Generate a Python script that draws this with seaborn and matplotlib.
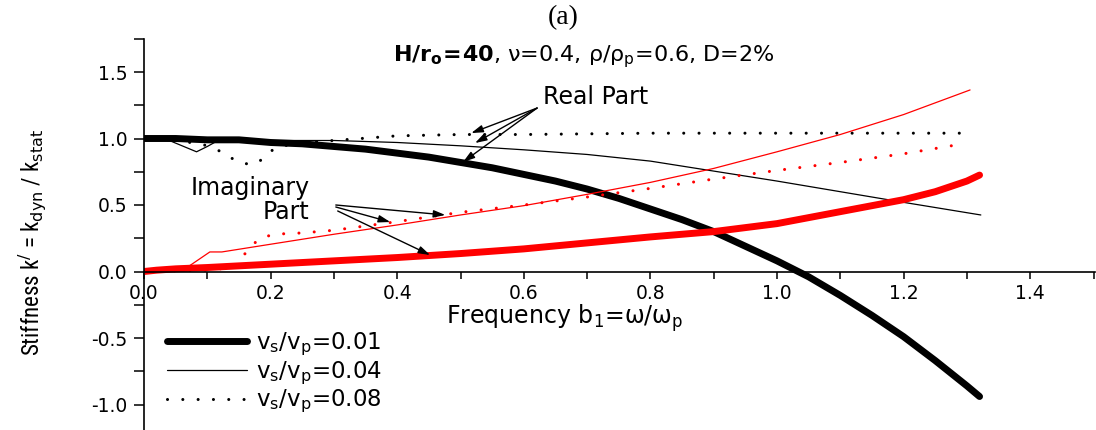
import matplotlib
matplotlib.use("Agg")
import matplotlib.pyplot as plt
from matplotlib import font_manager
from matplotlib.lines import Line2D
from matplotlib.ticker import MultipleLocator
import pandas as pd
import seaborn as sns

# --- dynamic stiffness k' = k_dyn / k_stat versus b1 = omega/omega_p ---
# vs/vp = 0.01
b1_re_001 = [0.00, 0.05, 0.10, 0.15, 0.20, 0.25, 0.30, 0.35, 0.40, 0.45, 0.50, 0.55, 0.60, 0.65,
             0.70, 0.75, 0.80, 0.85, 0.90, 0.95, 1.00, 1.05, 1.10, 1.15, 1.20, 1.25, 1.30, 1.32]
k_re_001 = [1.00, 1.00, 0.99, 0.99, 0.97, 0.96, 0.94, 0.92, 0.89, 0.86, 0.82, 0.78, 0.73, 0.68,
            0.62, 0.55, 0.47, 0.39, 0.30, 0.19, 0.08, -0.04, -0.18, -0.33, -0.49, -0.67, -0.86, -0.94]
b1_im_001 = [0.00, 0.02, 0.05, 0.10, 0.20, 0.30, 0.40, 0.50, 0.60, 0.70, 0.80, 0.90, 1.00, 1.10,
             1.20, 1.25, 1.30, 1.32]
k_im_001 = [0.00, 0.01, 0.02, 0.03, 0.055, 0.08, 0.105, 0.135, 0.17, 0.215, 0.26, 0.30, 0.36, 0.45,
            0.54, 0.60, 0.68, 0.725]

# vs/vp = 0.04
b1_re_004 = [0.00, 0.04, 0.083, 0.10, 0.117, 0.20, 0.30, 0.40, 0.50, 0.60, 0.70, 0.80, 0.90, 1.00,
             1.10, 1.20, 1.322]
k_re_004 = [1.00, 0.985, 0.90, 0.94, 0.985, 0.985, 0.985, 0.97, 0.945, 0.915, 0.88, 0.83, 0.755, 0.68,
            0.60, 0.52, 0.425]
b1_im_004 = [0.00, 0.03, 0.071, 0.104, 0.123, 0.20, 0.30, 0.40, 0.50, 0.60, 0.70, 0.80, 0.90, 1.00,
             1.10, 1.20, 1.305]
k_im_004 = [0.00, 0.01, 0.04, 0.147, 0.147, 0.205, 0.28, 0.35, 0.425, 0.495, 0.58, 0.67, 0.775, 0.90,
            1.03, 1.18, 1.365]

# vs/vp = 0.08
b1_re_008 = [0.00, 0.05, 0.073, 0.096, 0.12, 0.141, 0.16, 0.18, 0.193, 0.21, 0.25, 0.30, 0.40, 0.50,
             0.60, 0.70, 0.80, 1.00, 1.20, 1.305]
k_re_008 = [1.00, 0.99, 0.97, 0.95, 0.905, 0.845, 0.81, 0.815, 0.88, 0.935, 0.97, 0.985, 1.02, 1.03,
            1.03, 1.035, 1.04, 1.04, 1.04, 1.04]
b1_im_008 = [0.00, 0.10, 0.14, 0.155, 0.18, 0.204, 0.25, 0.30, 0.40, 0.50, 0.60, 0.70, 0.80, 0.90,
             1.00, 1.10, 1.20, 1.294]
k_im_008 = [0.00, 0.01, 0.03, 0.11, 0.24, 0.28, 0.29, 0.31, 0.375, 0.445, 0.50, 0.56, 0.625, 0.695,
            0.76, 0.82, 0.885, 0.96]

ratio_labels = [r"v$_\mathrm{s}$/v$_\mathrm{p}$=0.01",
                r"v$_\mathrm{s}$/v$_\mathrm{p}$=0.04",
                r"v$_\mathrm{s}$/v$_\mathrm{p}$=0.08"]

x_ticks = [0.0, 0.2, 0.4, 0.6, 0.8, 1.0, 1.2, 1.4]
y_ticks = [-1.0, -0.5, 0.0, 0.5, 1.0, 1.5]

# --- style ---
sns.set_style("ticks")
plt.rcParams["font.family"] = ["DejaVu Sans"]
plt.rcParams["mathtext.fontset"] = "dejavusans"
for key in ("text.color", "axes.labelcolor", "xtick.color", "ytick.color", "axes.edgecolor"):
    plt.rcParams[key] = "black"

# a condensed face for the vertical axis title, if one is available
ylab_font = dict(family="Liberation Sans", fontsize=14)
fonts = font_manager.fontManager.ttflist
names = {f.name for f in fonts}
for fam in ("Liberation Sans Narrow", "Roboto Condensed", "Open Sans Condensed",
            "Noto Sans Condensed", "DejaVu Sans Condensed"):
    if fam in names:
        ylab_font = dict(family=fam, fontsize=16.5)
        break
else:
    if any(f.name == "DejaVu Sans" and f.stretch == "condensed" and f.weight in (400, "normal")
           for f in fonts):
        ylab_font = dict(family="DejaVu Sans", fontstretch="condensed", fontsize=15.5)

DOT = (0, (0.01, 5))
styles = {
    "0.01": dict(lw=5.0, ls="-", solid_capstyle="round"),
    "0.04": dict(lw=0.9, ls="-"),
    "0.08": dict(lw=2.2, ls=DOT, dash_capstyle="round"),
}

fig = plt.figure(figsize=(10.96, 4.30), dpi=100)
ax = fig.add_axes([144 / 1096, 0.0, 951 / 1096, 391.5 / 430])

series = [
    ("0.01", "Real", b1_re_001, k_re_001, "black"),
    ("0.04", "Real", b1_re_004, k_re_004, "black"),
    ("0.08", "Real", b1_re_008, k_re_008, "black"),
    ("0.01", "Imag", b1_im_001, k_im_001, "red"),
    ("0.04", "Imag", b1_im_004, k_im_004, "red"),
    ("0.08", "Imag", b1_im_008, k_im_008, "red"),
]
for ratio, part, xs, ys, col in series:
    df = pd.DataFrame({"b1": xs, "k": ys})
    sns.lineplot(data=df, x="b1", y="k", ax=ax, color=col, estimator=None,
                 sort=False, legend=False, **styles[ratio])

# --- axes ---
ax.set_xlim(0, 951 / 633)
ax.set_ylim((271.5 - 430) / 133, (271.5 - 38.5) / 133)
for side in ("top", "right"):
    ax.spines[side].set_visible(False)
ax.spines["bottom"].set_position(("data", 0))
ax.spines["left"].set_linewidth(1.2)
ax.spines["bottom"].set_linewidth(1.2)

ax.set_xticks(x_ticks)
ax.set_xticklabels([f"{v:.1f}" for v in x_ticks])
ax.set_yticks(y_ticks)
ax.set_yticklabels([f"{v:.1f}" for v in y_ticks])
ax.xaxis.set_minor_locator(MultipleLocator(0.1))
ax.yaxis.set_minor_locator(MultipleLocator(0.25))
ax.tick_params(axis="x", which="both", direction="out", length=5, width=1.1, pad=4,
               labelsize=13.5, colors="black")
ax.tick_params(axis="y", which="both", direction="out", length=7, width=1.1, pad=5,
               labelsize=13.5, colors="black")

ax.set_xlabel(r"Frequency b$_\mathrm{1}$=ω/ω$_\mathrm{p}$", fontsize=17, va="center")
ax.xaxis.set_label_coords((565 - 144) / 951, (430 - 318) / 391.5)
ax.set_ylabel(r"Stiffness k$^{/}$ = k$_\mathrm{dyn}$ / k$_\mathrm{stat}$", va="center",
              **ylab_font)
ax.yaxis.set_label_coords((32 - 144) / 951, (430 - 242) / 391.5)

# --- text and arrows ---
ax.text(0.694, 1.613, r"$\mathbf{H/r_o\!=\!40}$, ν=0.4, ρ/ρ$_\mathrm{p}$=0.6, D=2%",
        fontsize=16, ha="center", va="center")
ax.text(0.714, 1.312, "Real Part", fontsize=17, ha="center", va="center")
ax.text(0.262, 0.628, "Imaginary", fontsize=17, ha="right", va="center")
ax.text(0.262, 0.447, "Part", fontsize=17, ha="right", va="center")

arrow_kw = dict(arrowstyle="-|>,head_length=0.7,head_width=0.22", color="black",
                lw=1.0, shrinkA=0, shrinkB=0)
for tip in [(0.517, 1.041), (0.523, 0.966), (0.504, 0.823)]:
    ax.annotate("", xy=tip, xytext=(0.621, 1.229), arrowprops=arrow_kw)
for start, tip in [((0.303, 0.500), (0.476, 0.425)),
                   ((0.303, 0.485), (0.389, 0.372)),
                   ((0.306, 0.455), (0.452, 0.124))]:
    ax.annotate("", xy=tip, xytext=start, arrowprops=arrow_kw)

# --- legend ---
handles = [Line2D([], [], color="black", **styles[r]) for r in ("0.01", "0.04", "0.08")]
ax.legend(handles, ratio_labels, loc="upper left",
          bbox_to_anchor=((167 - 144) / 951, (430 - 331) / 391.5),
          frameon=False, fontsize=16.5, handlelength=3.5, handletextpad=0.4,
          labelspacing=0.05, borderpad=0, borderaxespad=0)

fig.text(563 / 1096, 1 - 18 / 430, "(a)", family="Liberation Serif", fontsize=20,
         ha="center", va="center")

fig.savefig("out.png", dpi=100)
